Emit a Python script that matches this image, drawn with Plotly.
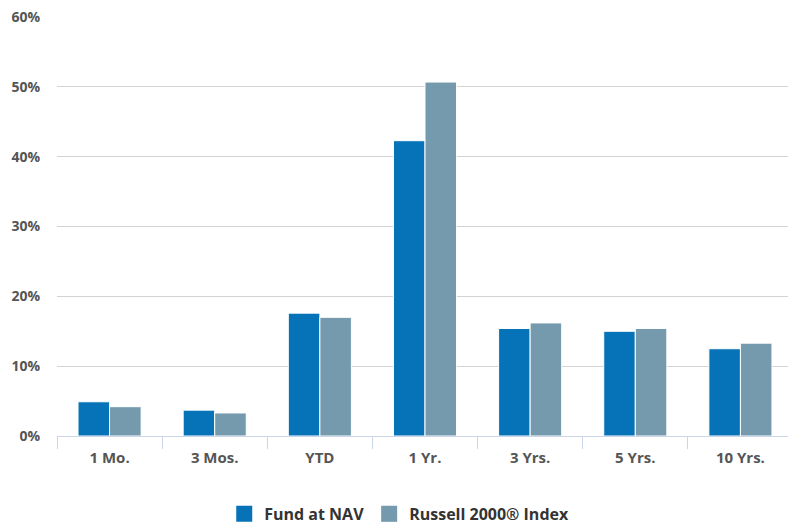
import plotly.graph_objects as go

categories = ["1 Mo.", "3 Mos.", "YTD", "1 Yr.", "3 Yrs.", "5 Yrs.", "10 Yrs."]
fund_nav = [4.9, 3.7, 17.6, 42.3, 15.4, 15.0, 12.5]
russell_2000 = [4.2, 3.3, 17.0, 50.7, 16.2, 15.4, 13.3]
series_names = ["Fund at NAV", "Russell 2000® Index"]
series_colors = ["#0673b9", "#759aae"]
y_ticks = [0, 10, 20, 30, 40, 50, 60]
y_tick_labels = [f"{v}%" for v in y_ticks]

FONT = "Open Sans"
fig = go.Figure()
for name, vals, col in zip(series_names, [fund_nav, russell_2000], series_colors):
    fig.add_trace(go.Bar(name=name, x=categories, y=vals, showlegend=False,
                         marker=dict(color=col, line=dict(color="#ffffff", width=1))))
# legend entries with larger square swatches
for name, col in zip(series_names, series_colors):
    fig.add_trace(go.Scatter(name=name, x=[None], y=[None], mode="markers",
                             marker=dict(symbol="square", size=16, color=col,
                                         line=dict(width=0))))

fig.update_layout(
    width=793, height=525,
    margin=dict(l=57, r=0, t=17, b=89, autoexpand=False),
    paper_bgcolor="white", plot_bgcolor="white",
    barmode="group", bargap=0.40, bargroupgap=0,
    font=dict(family=FONT, size=14, color="#555555", weight=700),
    legend=dict(orientation="h", x=0.465, xanchor="center", y=-0.186, yanchor="middle",
                font=dict(family=FONT, size=16, color="#333333", weight=700),
                itemwidth=30, traceorder="normal"),
    xaxis=dict(showline=True, linecolor="#ccd6eb", linewidth=1, automargin=False,
               ticks="outside", tickson="boundaries", ticklen=12, tickcolor="#ccd6eb",
               ticklabelstandoff=8,
               showgrid=False, tickfont=dict(family=FONT, size=15, color="#555555", weight=700)),
    yaxis=dict(range=[0, 60.02], tickmode="array", tickvals=y_ticks, ticktext=y_tick_labels,
               automargin=False,
               showgrid=True, gridcolor="#d3d3d3", gridwidth=1, zeroline=False,
               ticklabelstandoff=16, tickfont=dict(family=FONT, size=14, color="#555555", weight=700)),
)
fig.write_html(
    "out.html",
    config={"displayModeBar": False},
    post_script="document.body.style.margin='0';document.body.style.overflow='hidden';",
)
